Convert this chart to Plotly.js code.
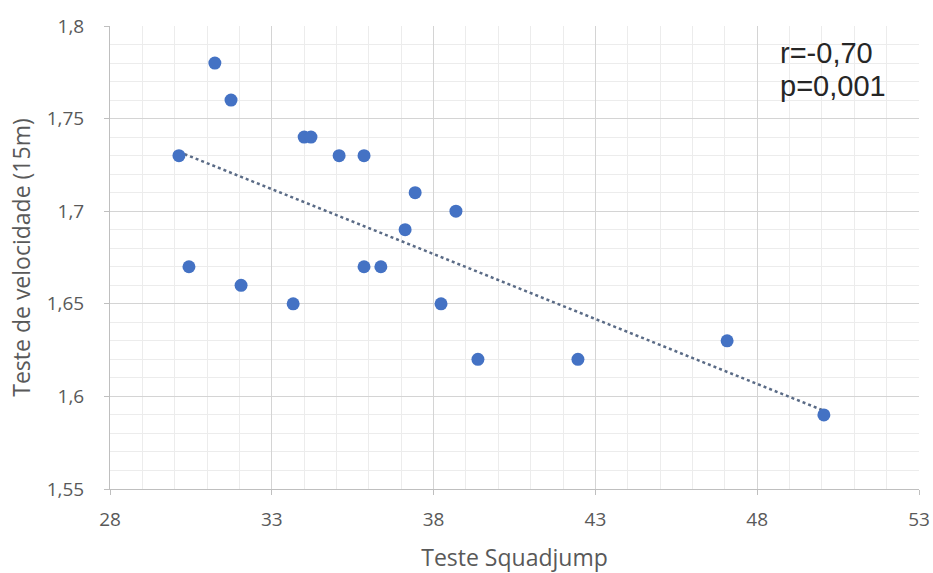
<!DOCTYPE html>
<html>
<head>
<meta charset="utf-8">
<script src="https://cdn.plot.ly/plotly-3.0.1.min.js"></script>
<style>html,body{margin:0;padding:0;background:#fff}#chart{width:933px;height:573px}</style>
</head>
<body>
<div id="chart"></div>
<script>
const squadjump = [30.13, 31.24, 31.74, 30.44, 32.05, 33.66, 34.0, 34.21, 35.08, 35.85, 35.85, 36.37, 37.43, 37.12, 38.69, 38.23, 39.37, 42.46, 47.07, 50.06];
const velocidade = [1.73, 1.78, 1.76, 1.67, 1.66, 1.65, 1.74, 1.74, 1.73, 1.73, 1.67, 1.67, 1.71, 1.69, 1.70, 1.65, 1.62, 1.62, 1.63, 1.59];
const xTicks = [28, 33, 38, 43, 48, 53];
const yTicks = [1.55, 1.6, 1.65, 1.7, 1.75, 1.8];
const statsText = ["r=-0,70", "p=0,001"];

// linear least-squares trendline (as Excel draws it)
const n = squadjump.length;
const mx = squadjump.reduce((a,b)=>a+b,0)/n;
const my = velocidade.reduce((a,b)=>a+b,0)/n;
let sxy=0, sxx=0;
for (let i=0;i<n;i++){ sxy += (squadjump[i]-mx)*(velocidade[i]-my); sxx += (squadjump[i]-mx)**2; }
const slope = sxy/sxx, icpt = my - slope*mx;
const xmin = Math.min(...squadjump), xmax = Math.max(...squadjump);
const trendX = [xmin, xmax];
const trendY = trendX.map(x => icpt + slope*x);

const FONT = "Open Sans, Noto Sans, sans-serif";
const tickFont = {family: FONT, size: 19, color: "#595959"};
const titleFont = {family: FONT, size: 23, color: "#595959"};

const data = [
  {x: trendX, y: trendY, type: "scatter", mode: "lines",
   line: {color: "#5a6b86", width: 2.5, dash: "dot"}, hoverinfo: "skip"},
  {x: squadjump, y: velocidade, type: "scatter", mode: "markers",
   marker: {color: "#4472c4", size: 13}}
];

const statsY = [0.942, 0.870];

const layout = {
  width: 933, height: 573,
  separators: ",.",
  showlegend: false,
  paper_bgcolor: "#fff", plot_bgcolor: "#fff",
  margin: {l: 110, r: 14, t: 26, b: 84},
  xaxis: {
    range: [28, 53], tickvals: xTicks, ticktext: xTicks.map(String),
    showgrid: true, gridcolor: "#d4d4d4", gridwidth: 1,
    minor: {dtick: 1, showgrid: true, gridcolor: "#ececec", gridwidth: 1},
    showline: true, linecolor: "#bfbfbf", linewidth: 1,
    ticks: "outside", ticklen: 5, tickcolor: "#bfbfbf",
    ticklabelstandoff: 8,
    zeroline: false, tickfont: tickFont,
    title: {text: "Teste Squadjump", font: titleFont, standoff: 25}
  },
  yaxis: {
    range: [1.55, 1.8], tickvals: yTicks,
    showgrid: true, gridcolor: "#d4d4d4", gridwidth: 1,
    minor: {dtick: 0.01, showgrid: true, gridcolor: "#ececec", gridwidth: 1},
    showline: true, linecolor: "#bfbfbf", linewidth: 1,
    ticks: "outside", ticklen: 5, tickcolor: "#bfbfbf",
    ticklabelstandoff: 16,
    zeroline: false, tickfont: tickFont,
    title: {text: "Teste de velocidade (15m)", font: titleFont, standoff: 9}
  },
  annotations: statsText.map((t, i) => ({
    xref: "paper", yref: "paper", x: 0.826, y: statsY[i], xanchor: "left", yanchor: "middle",
    text: t, align: "left", showarrow: false,
    font: {family: "Liberation Sans, Arial, sans-serif", size: 29, color: "#262626"}
  }))
};

Plotly.newPlot("chart", data, layout, {displayModeBar: false, responsive: false});
</script>
</body>
</html>
